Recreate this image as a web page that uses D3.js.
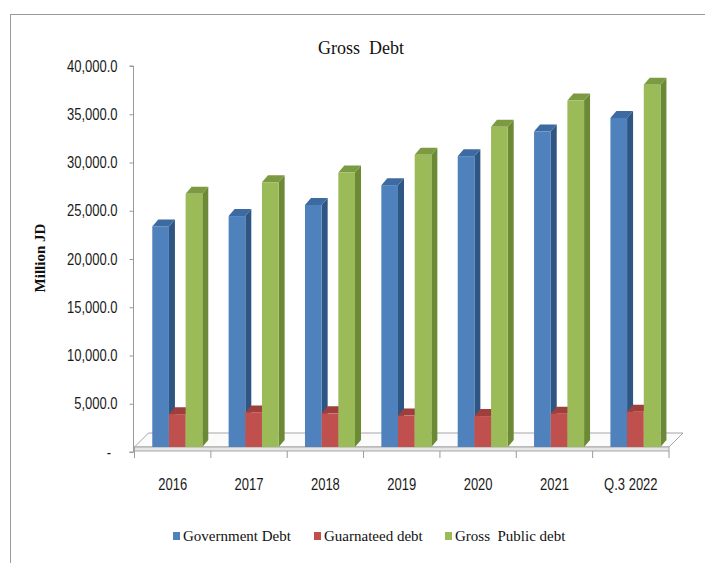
<!DOCTYPE html>
<html>
<head>
<meta charset="utf-8">
<script src="https://cdn.jsdelivr.net/npm/d3@7"></script>
<style>
  body { margin: 0; background: #ffffff; }
  svg { display: block; }
  .tick-label { font-family: "Liberation Sans", Arial, sans-serif; font-size: 13px; fill: #1a1a1a; }
  .serif { font-family: "Liberation Serif", "Times New Roman", serif; fill: #111; }
</style>
</head>
<body>
<svg id="chart" width="705" height="563"></svg>
<script>
// Gross debt by year, million JD
const categories = ["2016", "2017", "2018", "2019", "2020", "2021", "Q.3 2022"];
const seriesNames = ["Government Debt", "Guarnateed debt", "Gross  Public debt"];
const governmentDebt = [22830, 23900, 25050, 27100, 30100, 32650, 34050];
const guaranteedDebt = [3400, 3580, 3480, 3250, 3200, 3450, 3650];
const grossPublicDebt = [26200, 27400, 28400, 30250, 33150, 35850, 37500];
const yTickValues = [0, 5000, 10000, 15000, 20000, 25000, 30000, 35000, 40000];

const seriesValues = [governmentDebt, guaranteedDebt, grossPublicDebt];
const palette = [
  { front: "#4f81bd", side: "#2f5583", top: "#3d6aa1" },
  { front: "#c0504d", side: "#8a3532", top: "#9e3f3c" },
  { front: "#9bbb59", side: "#6c8a36", top: "#7c9a42" }
];

const svg = d3.select("#chart");

// frame around the chart area
svg.append("line").attr("x1", 10.5).attr("x2", 10.5).attr("y1", 14.5).attr("y2", 563)
  .attr("stroke", "#9a9a9a").attr("stroke-width", 1);
svg.append("line").attr("x1", 10).attr("x2", 705).attr("y1", 14.5).attr("y2", 14.5)
  .attr("stroke", "#9a9a9a").attr("stroke-width", 1);

// scales
const x0 = d3.scaleBand().domain(categories).range([134.5, 669]).paddingInner(0).paddingOuter(0);
const bw = x0.bandwidth();
const groupFrac = 0.655;
const x1 = d3.scaleBand().domain(seriesNames)
  .range([bw * (1 - groupFrac) / 2, bw * (1 + groupFrac) / 2]);
const yAxisScale = d3.scaleLinear().domain([0, 40000]).range([452, 66]);
const yBar = d3.scaleLinear().domain([0, 40000]).range([447, 60.5]);

// oblique offsets: floor depth, bar depth and bar front-face shift
const floorD = { dx: 14, dy: -14 };
const barD = { dx: 6, dy: -7 };
const barShiftX = 4.6;

// floor slab
const fl = x0.range()[0], fr = x0.range()[1], fy = yBar(0);
svg.append("polygon")
  .attr("points", [[fl, fy], [fr, fy], [fr + floorD.dx, fy + floorD.dy], [fl + floorD.dx, fy + floorD.dy]].map(p => p.join(",")).join(" "))
  .attr("fill", "#fbfbfb").attr("stroke", "#a6a6a6").attr("stroke-width", 1);
svg.append("rect").attr("x", fl).attr("y", fy).attr("width", fr - fl).attr("height", 4)
  .attr("fill", "#e6e6e6").attr("stroke", "#a6a6a6").attr("stroke-width", 1);

// bars
const pts = arr => arr.map(p => p.join(",")).join(" ");
const barsG = svg.append("g");
categories.forEach((cat, i) => {
  seriesNames.forEach((s, j) => {
    const v = seriesValues[j][i];
    const x = x0(cat) + x1(s) + barShiftX;
    const w = x1.bandwidth();
    const yt = yBar(v), yb = yBar(0);
    const c = palette[j];
    const g = barsG.append("g");
    g.append("polygon")
      .attr("points", pts([[x + w, yt], [x + w + barD.dx, yt + barD.dy], [x + w + barD.dx, yb + barD.dy], [x + w, yb]]))
      .attr("fill", c.side);
    g.append("polygon")
      .attr("points", pts([[x, yt], [x + barD.dx, yt + barD.dy], [x + w + barD.dx, yt + barD.dy], [x + w, yt]]))
      .attr("fill", c.top);
    g.append("rect").attr("x", x).attr("y", yt).attr("width", w).attr("height", yb - yt)
      .attr("fill", c.front);
  });
});

// value axis
const yAxisG = svg.append("g").attr("transform", "translate(133.5,0)")
  .call(d3.axisLeft(yAxisScale).tickValues(yTickValues).tickSize(4).tickPadding(0).tickFormat(() => ""));
yAxisG.select(".domain").attr("stroke", "#9a9a9a").attr("d", `M-4,${yAxisScale(40000)}H0V${yAxisScale(0)}H-4`);
yAxisG.selectAll(".tick line").attr("stroke", "#9a9a9a");
const fmt = d3.format(",.1f");
const labelStretch = 1.2;
svg.append("g").selectAll("text").data(yTickValues).join("text")
  .attr("class", "tick-label")
  .attr("transform", d => `translate(${d === 0 ? 111 : 117.5},${yAxisScale(d) + 5.5}) scale(1,${labelStretch})`)
  .attr("text-anchor", "end")
  .text(d => d === 0 ? "-" : fmt(d));

// category axis: boundary ticks and labels
const xTicks = categories.map(c => x0(c)).concat([fr]);
svg.append("g").selectAll("line").data(xTicks).join("line")
  .attr("x1", d => d).attr("x2", d => d).attr("y1", fy + 4).attr("y2", fy + 11)
  .attr("stroke", "#9a9a9a");
svg.append("g").selectAll("text").data(categories).join("text")
  .attr("class", "tick-label")
  .attr("transform", d => `translate(${x0(d) + bw / 2},490) scale(1,${labelStretch})`)
  .attr("text-anchor", "middle")
  .text(d => d);

// title and axis title
svg.append("text").attr("class", "serif").attr("x", 361).attr("y", 54)
  .attr("text-anchor", "middle").attr("font-size", 18)
  .style("white-space", "pre").text("Gross  Debt");
svg.append("text").attr("class", "serif").attr("font-weight", "bold").attr("font-size", 15)
  .attr("text-anchor", "middle").attr("transform", "translate(45,258) rotate(-90)")
  .text("Million JD");

// legend
const legendX = [173, 314, 445];
const legend = svg.append("g").selectAll("g").data(seriesNames).join("g")
  .attr("transform", (d, i) => `translate(${legendX[i]},0)`);
legend.append("rect").attr("x", 0).attr("y", 532).attr("width", 7).attr("height", 8)
  .attr("fill", (d, i) => palette[i].front);
legend.append("text").attr("class", "serif").attr("x", 10).attr("y", 541)
  .attr("font-size", 15).style("white-space", "pre").text(d => d);
</script>
</body>
</html>
